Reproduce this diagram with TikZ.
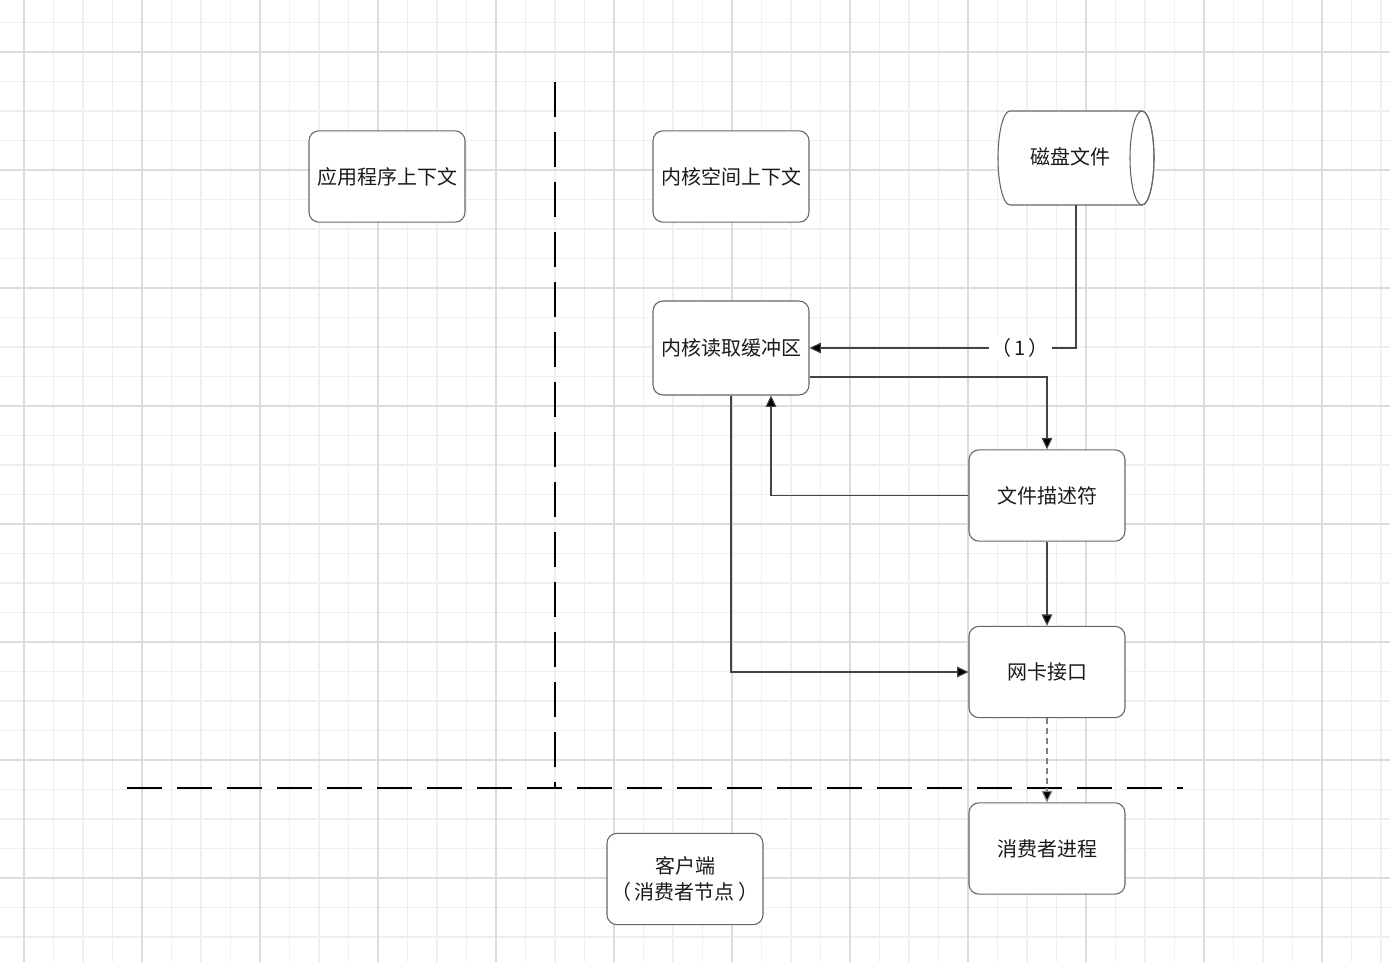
\documentclass[tikz,border=0pt]{standalone}
\usepackage{fontspec}
\newfontfamily\cjk{Noto Sans CJK SC}
\usetikzlibrary{arrows.meta,calc}
\definecolor{minorgrid}{HTML}{EFEFEF}
\definecolor{majorgrid}{HTML}{DCDCDC}
\definecolor{boxline}{HTML}{666666}
\definecolor{connline}{HTML}{444444}
\definecolor{txt}{HTML}{1A1A1A}
\tikzset{
  box/.style={draw=boxline, line width=0.8pt, fill=white, rounded corners=7.5pt,
    minimum width=117pt, minimum height=68.5pt, inner sep=2pt, align=center,
    font=\cjk\fontsize{15pt}{20pt}\selectfont, text=txt},
  conn/.style={draw=connline, line width=0.8pt, -{Triangle[length=8.5pt,width=8pt,fill=black]}},
  divider/.style={draw=black, line width=1.5pt, dash pattern=on 26.25pt off 11.25pt},
  lbl/.style={fill=white, inner sep=2pt, font=\cjk\fontsize{15pt}{20pt}\selectfont, text=txt},
  cyl/.style={draw=boxline, line width=0.8pt}
}
\begin{document}
\begin{tikzpicture}[x=0.75pt,y=-0.75pt]
\useasboundingbox (0,0) rectangle (1390,962);
\fill[white] (0,0) rectangle (1390,962);
% grid
\foreach \i in {0,...,48} {
  \draw[minorgrid, line width=0.8pt] ({-5.5+\i*29.5},0) -- ({-5.5+\i*29.5},962);
}
\foreach \i in {0,...,33} {
  \draw[minorgrid, line width=0.8pt] (0,{-7+\i*29.5}) -- (1390,{-7+\i*29.5});
}
\foreach \i in {0,...,11} {
  \draw[majorgrid, line width=1pt] ({24+\i*118},0) -- ({24+\i*118},962);
}
\foreach \i in {0,...,7} {
  \draw[majorgrid, line width=1pt] (0,{52+\i*118}) -- (1390,{52+\i*118});
}
% dividers
\coordinate (vtop) at (555,82);
\coordinate (vbot) at (555,788);
\coordinate (hleft) at (127,788);
\coordinate (hright) at (1183,788);
\draw[divider] (vtop) -- (vbot);
\draw[divider] (hleft) -- (hright);
% nodes
\node[box] (app) at (387,176.5) {应用程序上下文};
\node[box] (kctx) at (731,176.5) {内核空间上下文};
% disk cylinder
\filldraw[cyl, fill=white] (1010,111) -- (1142,111) arc[start angle=-90, end angle=90, x radius=12, y radius=47]
  -- (1010,205) arc[start angle=90, end angle=270, x radius=12, y radius=47] -- cycle;
\draw[cyl] (1142,158) ellipse[x radius=12, y radius=47];
\node[minimum width=117pt, minimum height=70.5pt, inner sep=0pt] (disk) at (1076,158) {};
\node[font=\cjk\fontsize{15pt}{20pt}\selectfont, text=txt] (disktext) at (1070,157) {磁盘文件};
\node[box, minimum height=70.5pt] (buf) at (731,348) {内核读取缓冲区};
\node[box] (fd) at (1047,495.5) {文件描述符};
\node[box] (nic) at (1047,672) {网卡接口};
\node[box] (cons) at (1047,848.5) {消费者进程};
\node[box] (client) at (685,879) {客户端\\（\,消费者节点\,）};
% connectors
\draw[conn] (disk.south) |- (buf.east) node[lbl, pos=0.605] {（\,1\,）};
\draw[conn] ([yshift=-21.75pt]buf.east) -| (fd.north);
\draw[conn] (fd.west) -| ([xshift=30pt]buf.south);
\draw[conn] (buf.south) |- (nic.west);
\draw[conn] (fd.south) -- (nic.north);
\draw[conn, draw=gray, dash pattern=on 4.5pt off 3pt] (nic.south) -- (cons.north);
\end{tikzpicture}
\end{document}
